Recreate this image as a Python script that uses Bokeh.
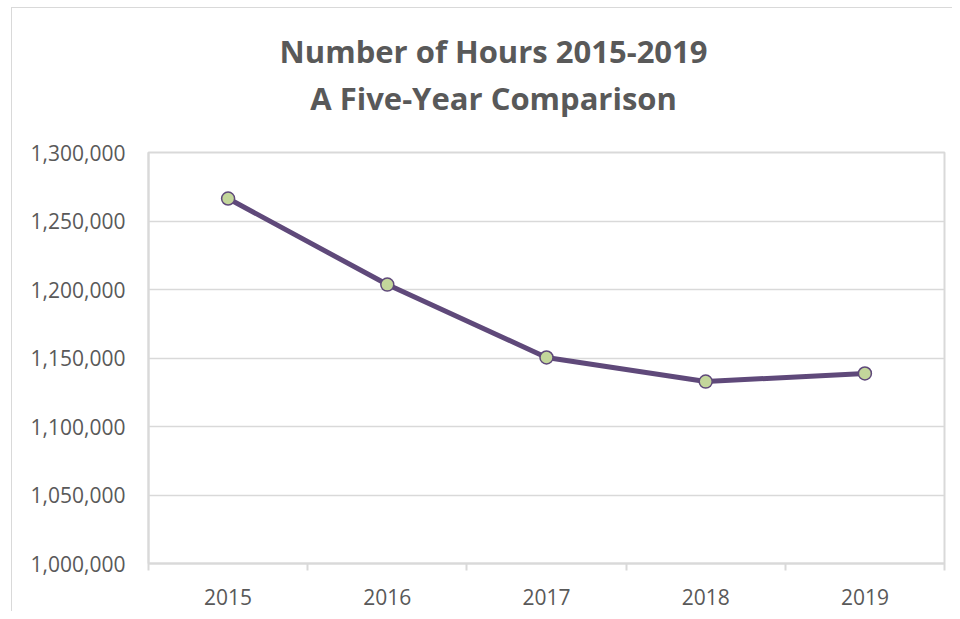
from bokeh.plotting import figure
from bokeh.layouts import column
from bokeh.models import FixedTicker, NumeralTickFormatter, Range1d
from bokeh.core.properties import value
from bokeh.embed import file_html
from bokeh.resources import INLINE

years = ["2015", "2016", "2017", "2018", "2019"]
hours = [1266400, 1203600, 1150400, 1132800, 1138700]
y_ticks = [1000000, 1050000, 1100000, 1150000, 1200000, 1250000, 1300000]
title_lines = ["Number of Hours 2015-2019", "A Five-Year Comparison"]

FONT = "Open Sans"
GREY = "#595959"
PURPLE = "#5F497A"
GREEN = "#C3D69B"
GRID = "#d9d9d9"

W = 940
TH = 120

# title strip (its frame is aligned with the chart frame by the column layout)
t = figure(width=W, height=TH, output_backend="svg", toolbar_location=None,
           x_range=Range1d(0, W), y_range=Range1d(0, TH),
           x_axis_location=None, y_axis_location=None, min_border=0)
t.grid.visible = False
t.outline_line_color = None
t.text(x=[407.5, 407.5], y=[78, 31], text=title_lines, text_align="center",
       text_baseline="alphabetic", text_font=value(FONT), text_font_size="31px",
       text_font_style="bold", text_color=GREY)

xs = [i + 0.5 for i in range(len(years))]

p = figure(width=W, height=483, output_backend="svg", toolbar_location=None,
           x_range=Range1d(0, len(years)), y_range=Range1d(y_ticks[0], y_ticks[-1]),
           min_border_left=136, min_border_top=24, min_border_right=8, min_border_bottom=48)

p.line(xs, hours, line_color=PURPLE, line_width=5)
p.scatter(xs, hours, size=13, fill_color=GREEN, line_color=PURPLE, line_width=1.5)

p.outline_line_color = GRID
p.outline_line_width = 2
p.background_fill_color = "white"
p.border_fill_color = "white"

p.xgrid.visible = False
p.ygrid.grid_line_color = GRID
p.ygrid.grid_line_width = 1.5

p.xaxis.ticker = FixedTicker(ticks=xs, minor_ticks=list(range(len(years) + 1)))
p.xaxis.major_label_overrides = {x: y for x, y in zip(xs, years)}
p.xaxis.major_tick_line_color = None
p.xaxis.major_tick_out = 0
p.xaxis.minor_tick_line_color = GRID
p.xaxis.minor_tick_line_width = 2
p.xaxis.minor_tick_out = 7
p.xaxis.minor_tick_in = 0
p.xaxis.axis_line_color = GRID
p.xaxis.axis_line_width = 2
p.xaxis.major_label_standoff = 18

p.yaxis.ticker = FixedTicker(ticks=y_ticks)
p.yaxis.formatter = NumeralTickFormatter(format="0,0")
p.yaxis.major_tick_line_color = None
p.yaxis.minor_tick_line_color = None
p.yaxis.major_tick_out = 0
p.yaxis.major_tick_in = 0
p.yaxis.axis_line_color = GRID
p.yaxis.axis_line_width = 2
p.yaxis.major_label_standoff = 23

for ax in (p.xaxis, p.yaxis):
    ax.major_label_text_font = FONT
    ax.major_label_text_font_size = "21px"
    ax.major_label_text_color = GREY

layout = column(t, p, spacing=0, margin=(7, 0, 0, 11))
layout.styles = {"border-top": "1px solid #d9d9d9", "border-left": "1px solid #d9d9d9"}

open("out.html", "w").write(file_html(layout, INLINE))
